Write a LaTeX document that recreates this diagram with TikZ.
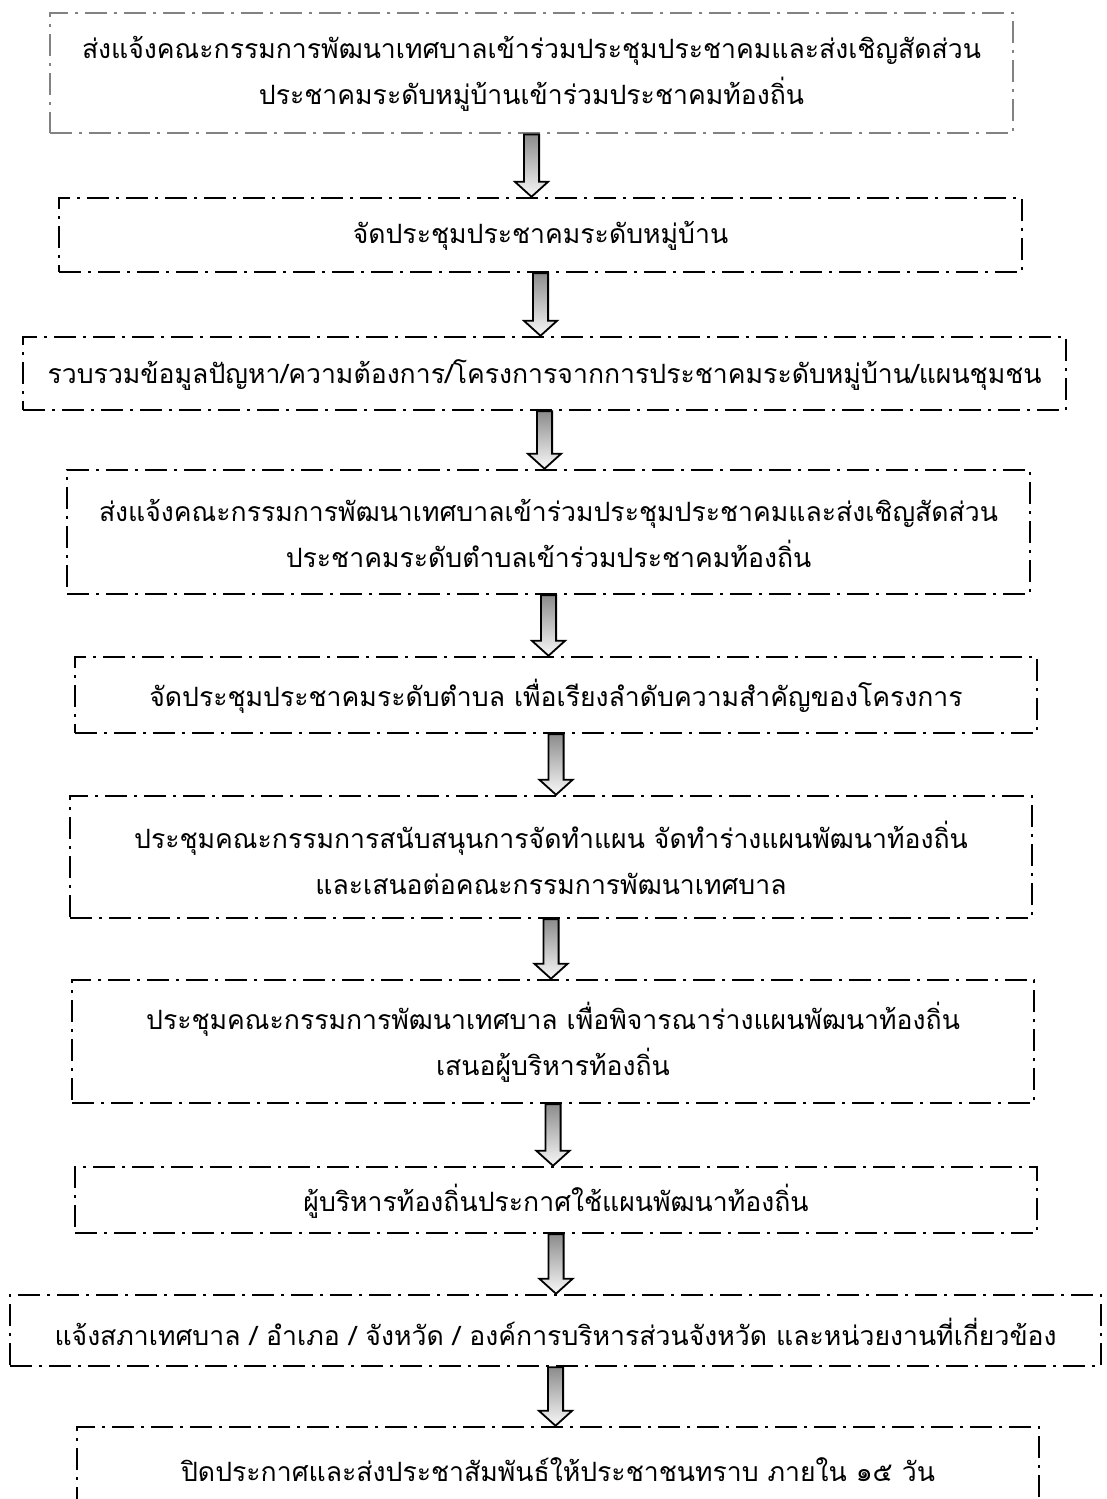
\documentclass[tikz,border=0pt]{standalone}
\usepackage{fontspec}
\newfontfamily\thaifont[Script=Thai]{Loma}
\usetikzlibrary{fit,calc}
\definecolor{arrowtop}{RGB}{140,140,140}
\definecolor{arrowbot}{RGB}{248,248,248}
\definecolor{firstgray}{RGB}{130,130,130}
\tikzset{
  stepbox/.style={draw=black, line width=1.25pt,
    dash pattern=on 11pt off 3.5pt on 1.5pt off 3.5pt,
    inner sep=0pt},
  graybox/.style={stepbox, draw=firstgray, line width=1.4pt},
  boxtext/.style={inner sep=0pt, align=center,
    font=\thaifont\fontsize{13.3}{23}\selectfont},
  flowarrow/.style={draw=black, line width=0.9pt, top color=arrowtop,
    bottom color=arrowbot, line join=miter}
}
\newcommand\flowarrow[2]{%
  \path[flowarrow] let \p1=(#1.south), \p2=(#2.north) in
  (\x1-3.8pt,\y1) -- (\x1+3.8pt,\y1) -- (\x1+3.8pt,\y2+7.5pt) --
  (\x1+8.3pt,\y2+7.5pt) -- (\x1,\y2) -- (\x1-8.3pt,\y2+7.5pt) --
  (\x1-3.8pt,\y2+7.5pt) -- cycle;}
\newcommand\boxlabel[2]{\node[boxtext] at ([yshift=-0.5pt]#1.center) {#2};}
\begin{document}
\begin{tikzpicture}[x=0.5pt,y=-0.5pt]
\useasboundingbox (0,0) rectangle (1107,1499);
\node[graybox, fit={(50,13) (1013,133)}] (b1) {};
\node[stepbox, fit={(59,198) (1022,272)}] (b2) {};
\node[stepbox, fit={(23,337) (1066,410)}] (b3) {};
\node[stepbox, fit={(67,470) (1030,594)}] (b4) {};
\node[stepbox, fit={(75,657) (1037,733)}] (b5) {};
\node[stepbox, fit={(70,796) (1032,918)}] (b6) {};
\node[stepbox, fit={(72,980) (1034,1103)}] (b7) {};
\node[stepbox, fit={(75,1167) (1037,1233)}] (b8) {};
\node[stepbox, fit={(10,1295) (1101,1366)}] (b9) {};
\node[stepbox, fit={(77,1427) (1039,1510)}] (b10) {};
\boxlabel{b1}{ส่งแจ้งคณะกรรมการพัฒนาเทศบาลเข้าร่วมประชุมประชาคมและส่งเชิญสัดส่วน\\ประชาคมระดับหมู่บ้านเข้าร่วมประชาคมท้องถิ่น}
\boxlabel{b2}{จัดประชุมประชาคมระดับหมู่บ้าน}
\boxlabel{b3}{รวบรวมข้อมูลปัญหา/ความต้องการ/โครงการจากการประชาคมระดับหมู่บ้าน/แผนชุมชน}
\boxlabel{b4}{ส่งแจ้งคณะกรรมการพัฒนาเทศบาลเข้าร่วมประชุมประชาคมและส่งเชิญสัดส่วน\\ประชาคมระดับตำบลเข้าร่วมประชาคมท้องถิ่น}
\boxlabel{b5}{จัดประชุมประชาคมระดับตำบล เพื่อเรียงลำดับความสำคัญของโครงการ}
\boxlabel{b6}{ประชุมคณะกรรมการสนับสนุนการจัดทำแผน จัดทำร่างแผนพัฒนาท้องถิ่น\\และเสนอต่อคณะกรรมการพัฒนาเทศบาล}
\boxlabel{b7}{ประชุมคณะกรรมการพัฒนาเทศบาล เพื่อพิจารณาร่างแผนพัฒนาท้องถิ่น\\เสนอผู้บริหารท้องถิ่น}
\boxlabel{b8}{ผู้บริหารท้องถิ่นประกาศใช้แผนพัฒนาท้องถิ่น}
\boxlabel{b9}{แจ้งสภาเทศบาล / อำเภอ / จังหวัด / องค์การบริหารส่วนจังหวัด และหน่วยงานที่เกี่ยวข้อง}
\boxlabel{b10}{ปิดประกาศและส่งประชาสัมพันธ์ให้ประชาชนทราบ ภายใน ๑๕ วัน}
\flowarrow{b1}{b2}
\flowarrow{b2}{b3}
\flowarrow{b3}{b4}
\flowarrow{b4}{b5}
\flowarrow{b5}{b6}
\flowarrow{b6}{b7}
\flowarrow{b7}{b8}
\flowarrow{b8}{b9}
\flowarrow{b9}{b10}
\end{tikzpicture}
\end{document}
